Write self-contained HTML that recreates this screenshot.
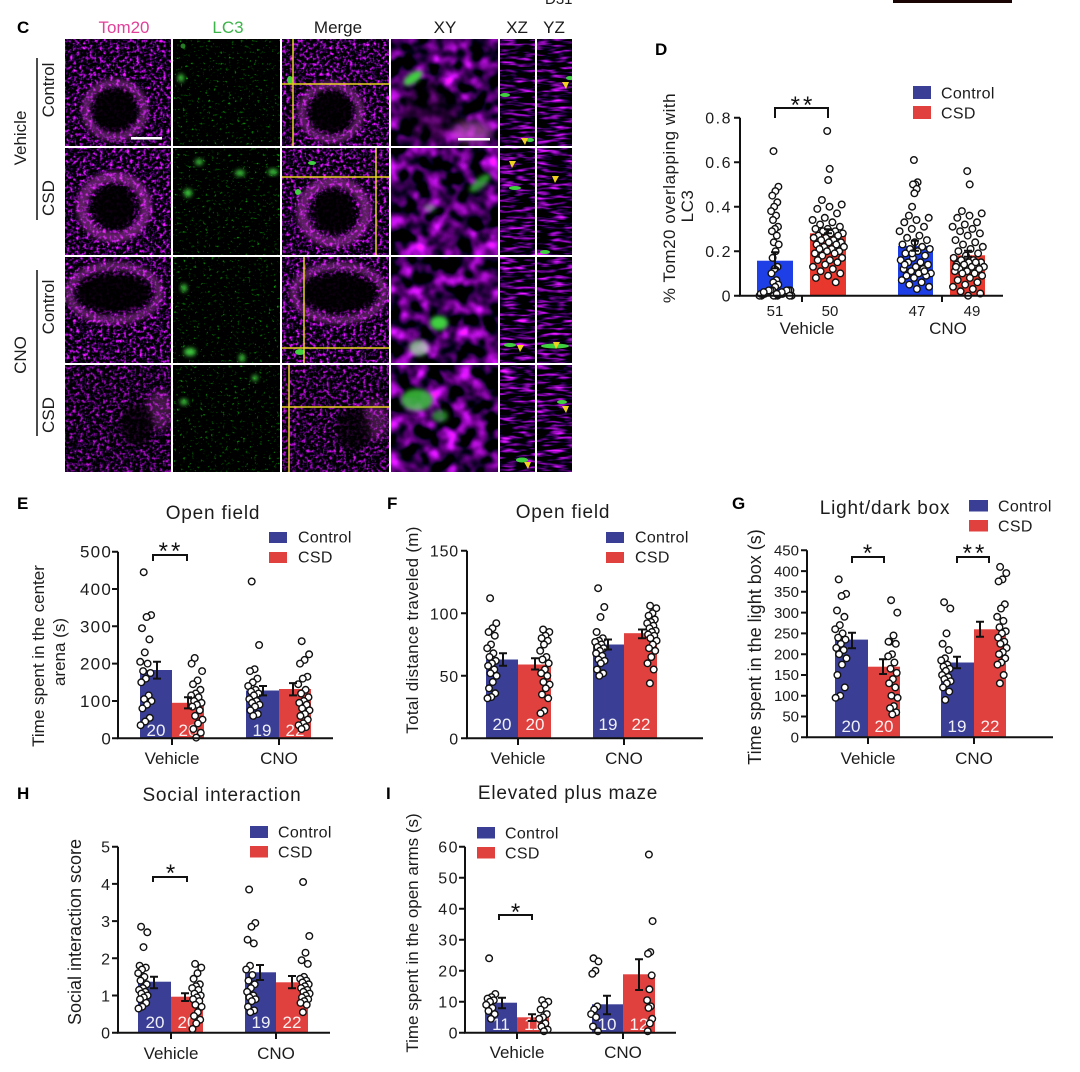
<!DOCTYPE html>
<html><head><meta charset="utf-8">
<style>
html,body{margin:0;padding:0;background:#fff;}
svg{display:block;}
text{font-family:"Liberation Sans",Arial,sans-serif;fill:#1c1c1c;}
.tk{font-size:16px;letter-spacing:1.5px;}
.tg{font-size:15px;}
.lb{font-size:17px;}
.ttl{font-size:19px;letter-spacing:0.8px;}
.lg{font-size:16px;letter-spacing:0.3px;}
text.pl{font-size:17px;font-weight:bold;fill:#000;}
.n text{font-size:17px;fill:#fff;fill-opacity:0.92;}
text.st{font-size:24px;letter-spacing:3px;fill:#111;}
.ax{stroke:#111;stroke-width:2;fill:none;}
.eb{stroke:#111;stroke-width:2;fill:none;}
.dots circle{fill:#fff;stroke:#111;stroke-width:1.4;}
.bl{fill:#3a3f95;}
.rd{fill:#e0403e;}
.yl{stroke:#e6d21e;stroke-width:1.5;}
.ar{fill:#f0d020;}
.gb{fill:#40d040;}
</style></head>
<body>
<svg width="1080" height="1072" viewBox="0 0 1080 1072" xmlns="http://www.w3.org/2000/svg">
<defs>
<filter id="ftom" x="0" y="0" width="1" height="1" color-interpolation-filters="sRGB">
<feTurbulence type="fractalNoise" baseFrequency="0.3" numOctaves="2" seed="4"/>
<feColorMatrix type="matrix" values="3.0 0 0 0 -1.42  0.45 0 0 0 -0.26  3.2 0 0 0 -1.44  0 0 0 0 1"/>
</filter>
<filter id="flc3" x="0" y="0" width="1" height="1" color-interpolation-filters="sRGB">
<feTurbulence type="fractalNoise" baseFrequency="0.35" numOctaves="2" seed="11"/>
<feColorMatrix type="matrix" values="0.2 0 0 0 -0.14  2.6 0 0 0 -1.66  0.2 0 0 0 -0.14  0 0 0 0 1"/>
</filter>
<filter id="fxy" x="0" y="0" width="1" height="1" color-interpolation-filters="sRGB">
<feTurbulence type="fractalNoise" baseFrequency="0.07" numOctaves="3" seed="21"/>
<feGaussianBlur stdDeviation="1.5"/>
<feColorMatrix type="matrix" values="2.6 0 0 0 -1.08  0.4 0 0 0 -0.22  2.8 0 0 0 -1.08  0 0 0 0 1"/>
</filter>
<filter id="fz" x="0" y="0" width="1" height="1" color-interpolation-filters="sRGB">
<feTurbulence type="fractalNoise" baseFrequency="0.06 0.3" numOctaves="2" seed="8"/>
<feColorMatrix type="matrix" values="2.7 0 0 0 -1.28  0.4 0 0 0 -0.23  2.9 0 0 0 -1.28  0 0 0 0 1"/>
</filter>
<filter id="b2" x="-50%" y="-50%" width="200%" height="200%"><feGaussianBlur stdDeviation="2"/></filter>
<filter id="b4" x="-50%" y="-50%" width="200%" height="200%"><feGaussianBlur stdDeviation="4"/></filter>
</defs>

<!-- top fragments -->
<text x="545" y="4" style="font-size:15px">D31</text>
<rect x="893" y="0" width="119" height="3" fill="#1a0505"/>

<!-- ================= Panel C ================= -->
<text class="pl" x="17" y="33">C</text>
<text class="lb" x="124" y="33" text-anchor="middle" style="fill:#e0409a">Tom20</text>
<text class="lb" x="228" y="33" text-anchor="middle" style="fill:#3cb44a">LC3</text>
<text class="lb" x="338" y="33" text-anchor="middle">Merge</text>
<text class="lb" x="445" y="33" text-anchor="middle">XY</text>
<text class="lb" x="517" y="33" text-anchor="middle">XZ</text>
<text class="lb" x="554" y="33" text-anchor="middle">YZ</text>

<text class="lb" transform="translate(26,138) rotate(-90)" text-anchor="middle">Vehicle</text>
<text class="lb" transform="translate(54,90) rotate(-90)" text-anchor="middle">Control</text>
<text class="lb" transform="translate(54,198) rotate(-90)" text-anchor="middle">CSD</text>
<text class="lb" transform="translate(26,355) rotate(-90)" text-anchor="middle">CNO</text>
<text class="lb" transform="translate(54,307) rotate(-90)" text-anchor="middle">Control</text>
<text class="lb" transform="translate(54,415) rotate(-90)" text-anchor="middle">CSD</text>
<line x1="37" y1="58" x2="37" y2="220" stroke="#111" stroke-width="1.5"/>
<line x1="37" y1="270" x2="37" y2="436" stroke="#111" stroke-width="1.5"/>

<!-- Row 1 -->
<svg x="65" y="39" width="106" height="107" viewBox="65 39 106 107">
<rect x="65" y="39" width="106" height="107" filter="url(#ftom)"/>
<ellipse cx="115" cy="110" rx="29" ry="27" fill="none" stroke="#d048d8" stroke-opacity="0.4" stroke-width="9" filter="url(#b2)"/>
<ellipse cx="115" cy="110" rx="22" ry="21" fill="#000" opacity="0.92" filter="url(#b2)"/>
<rect x="131" y="137" width="31" height="2.5" fill="#fff"/>
</svg>
<svg x="173" y="39" width="107" height="107" viewBox="173 39 107 107">
<rect x="173" y="39" width="107" height="107" filter="url(#flc3)"/>
<ellipse class="gb" cx="181" cy="78" rx="3" ry="4" filter="url(#b2)"/>
<ellipse class="gb" cx="183" cy="46" rx="2.5" ry="2.5" opacity=".6"/>
</svg>
<svg x="282" y="39" width="107" height="107" viewBox="282 39 107 107">
<rect x="282" y="39" width="107" height="107" filter="url(#ftom)"/>
<ellipse cx="331" cy="112" rx="29" ry="27" fill="none" stroke="#d048d8" stroke-opacity="0.4" stroke-width="9" filter="url(#b2)"/>
<ellipse cx="331" cy="112" rx="22" ry="21" fill="#000" opacity="0.92" filter="url(#b2)"/>
<ellipse class="gb" cx="290" cy="80" rx="3" ry="4"/>
<line class="yl" x1="293" y1="39" x2="293" y2="146"/>
<line class="yl" x1="282" y1="84" x2="389" y2="84"/>
</svg>
<svg x="391" y="39" width="107" height="107" viewBox="391 39 107 107">
<rect x="391" y="39" width="107" height="107" filter="url(#fxy)"/>
<ellipse cx="430" cy="112" rx="28" ry="30" fill="#000" opacity="0.5" filter="url(#b4)"/>
<ellipse cx="472" cy="132" rx="20" ry="11" fill="#e060e0" opacity="0.6" filter="url(#b4)"/>
<ellipse class="gb" cx="413" cy="78" rx="11" ry="5" transform="rotate(-35 413 78)" filter="url(#b2)"/>
<rect x="458" y="138" width="32" height="2.5" fill="#fff"/>
</svg>
<svg x="500" y="39" width="35" height="107" viewBox="500 39 35 107">
<rect x="500" y="39" width="35" height="107" filter="url(#fz)"/>
<ellipse class="gb" cx="505" cy="95" rx="5" ry="2"/>
<ellipse class="gb" cx="530" cy="140" rx="4" ry="2"/>
<polygon class="ar" points="521,138 528,138 525,145"/>
</svg>
<svg x="537" y="39" width="35" height="107" viewBox="537 39 35 107">
<rect x="537" y="39" width="35" height="107" filter="url(#fz)"/>
<ellipse class="gb" cx="570" cy="78" rx="4" ry="2"/>
<polygon class="ar" points="562,82 569,82 566,89"/>
</svg>

<!-- Row 2 -->
<svg x="65" y="148" width="106" height="107" viewBox="65 148 106 107">
<rect x="65" y="148" width="106" height="107" filter="url(#ftom)"/>
<ellipse cx="114" cy="207" rx="32" ry="30" fill="none" stroke="#d048d8" stroke-opacity="0.45" stroke-width="11" filter="url(#b2)"/>
<ellipse cx="114" cy="207" rx="21" ry="22" fill="#000" opacity="0.93" filter="url(#b2)"/>
</svg>
<svg x="173" y="148" width="107" height="107" viewBox="173 148 107 107">
<rect x="173" y="148" width="107" height="107" filter="url(#flc3)"/>
<ellipse class="gb" cx="199" cy="162" rx="4" ry="3" filter="url(#b2)"/>
<ellipse class="gb" cx="188" cy="193" rx="4" ry="4" filter="url(#b2)"/>
<ellipse class="gb" cx="240" cy="173" rx="5" ry="3" filter="url(#b2)"/>
<ellipse class="gb" cx="273" cy="172" rx="5" ry="3" filter="url(#b2)"/>
</svg>
<svg x="282" y="148" width="107" height="107" viewBox="282 148 107 107">
<rect x="282" y="148" width="107" height="107" filter="url(#ftom)"/>
<ellipse cx="334" cy="212" rx="32" ry="30" fill="none" stroke="#d048d8" stroke-opacity="0.45" stroke-width="11" filter="url(#b2)"/>
<ellipse cx="334" cy="212" rx="21" ry="22" fill="#000" opacity="0.93" filter="url(#b2)"/>
<ellipse class="gb" cx="298" cy="192" rx="3" ry="3"/>
<ellipse class="gb" cx="312" cy="163" rx="4" ry="2"/>
<line class="yl" x1="376" y1="148" x2="376" y2="255"/>
<line class="yl" x1="282" y1="177" x2="389" y2="177"/>
</svg>
<svg x="391" y="148" width="107" height="107" viewBox="391 148 107 107">
<rect x="391" y="148" width="107" height="107" filter="url(#fxy)"/>
<ellipse class="gb" cx="480" cy="183" rx="13" ry="5" transform="rotate(-40 480 183)" opacity=".7" filter="url(#b2)"/>
<ellipse class="gb" cx="430" cy="208" rx="6" ry="4" opacity=".5" filter="url(#b2)"/>
</svg>
<svg x="500" y="148" width="35" height="107" viewBox="500 148 35 107">
<rect x="500" y="148" width="35" height="107" filter="url(#fz)"/>
<ellipse class="gb" cx="515" cy="188" rx="6" ry="2"/>
<polygon class="ar" points="509,161 516,161 512,168"/>
</svg>
<svg x="537" y="148" width="35" height="107" viewBox="537 148 35 107">
<rect x="537" y="148" width="35" height="107" filter="url(#fz)"/>
<polygon class="ar" points="552,176 559,176 555,183"/>
<ellipse class="gb" cx="545" cy="252" rx="5" ry="2"/>
</svg>

<!-- Row 3 -->
<svg x="65" y="257" width="106" height="106" viewBox="65 257 106 106">
<rect x="65" y="257" width="106" height="106" filter="url(#ftom)"/>
<ellipse cx="114" cy="293" rx="45" ry="27" fill="none" stroke="#d048d8" stroke-opacity="0.4" stroke-width="9" filter="url(#b2)"/>
<ellipse cx="114" cy="293" rx="37" ry="19" fill="#000" opacity="0.92" filter="url(#b2)"/>
</svg>
<svg x="173" y="257" width="107" height="106" viewBox="173 257 107 106">
<rect x="173" y="257" width="107" height="106" filter="url(#flc3)"/>
<ellipse class="gb" cx="190" cy="352" rx="6" ry="4" filter="url(#b2)"/>
<ellipse class="gb" cx="184" cy="288" rx="3" ry="4" filter="url(#b2)"/>
<ellipse class="gb" cx="242" cy="358" rx="3" ry="4" filter="url(#b2)"/>
</svg>
<svg x="282" y="257" width="107" height="106" viewBox="282 257 107 106">
<rect x="282" y="257" width="107" height="106" filter="url(#ftom)"/>
<ellipse cx="339" cy="293" rx="45" ry="27" fill="none" stroke="#d048d8" stroke-opacity="0.4" stroke-width="9" filter="url(#b2)"/>
<ellipse cx="339" cy="293" rx="37" ry="19" fill="#000" opacity="0.92" filter="url(#b2)"/>
<ellipse class="gb" cx="300" cy="352" rx="5" ry="3"/>
<line class="yl" x1="304" y1="257" x2="304" y2="363"/>
<line class="yl" x1="282" y1="348" x2="389" y2="348"/>
</svg>
<svg x="391" y="257" width="107" height="106" viewBox="391 257 107 106">
<rect x="391" y="257" width="107" height="106" filter="url(#fxy)"/>
<ellipse class="gb" cx="439" cy="323" rx="9" ry="7" filter="url(#b2)"/>
<ellipse cx="419" cy="348" rx="10" ry="8" fill="#a8f0a8" opacity=".7" filter="url(#b2)"/>
</svg>
<svg x="500" y="257" width="35" height="106" viewBox="500 257 35 106">
<rect x="500" y="257" width="35" height="106" filter="url(#fz)"/>
<ellipse class="gb" cx="510" cy="345" rx="6" ry="2"/>
<polygon class="ar" points="517,345 524,345 520,352"/>
</svg>
<svg x="537" y="257" width="35" height="106" viewBox="537 257 35 106">
<rect x="537" y="257" width="35" height="106" filter="url(#fz)"/>
<ellipse class="gb" cx="555" cy="346" rx="14" ry="2.5"/>
<polygon class="ar" points="553,342 560,342 556,349"/>
</svg>

<!-- Row 4 -->
<svg x="65" y="365" width="106" height="107" viewBox="65 365 106 107">
<rect x="65" y="365" width="106" height="107" filter="url(#ftom)"/>
<rect x="65" y="365" width="106" height="107" fill="#000" opacity="0.2"/>
<ellipse cx="160" cy="410" rx="14" ry="20" fill="#d050d0" opacity=".3" filter="url(#b4)"/>
<ellipse cx="137" cy="425" rx="17" ry="21" fill="#000" opacity="0.75" filter="url(#b2)"/>
</svg>
<svg x="173" y="365" width="107" height="107" viewBox="173 365 107 107">
<rect x="173" y="365" width="107" height="107" filter="url(#flc3)"/>
<ellipse class="gb" cx="184" cy="402" rx="4" ry="3" filter="url(#b2)"/>
<ellipse class="gb" cx="255" cy="378" rx="3" ry="3" filter="url(#b2)"/>
</svg>
<svg x="282" y="365" width="107" height="107" viewBox="282 365 107 107">
<rect x="282" y="365" width="107" height="107" filter="url(#ftom)"/>
<rect x="282" y="365" width="107" height="107" fill="#000" opacity="0.15"/>
<ellipse cx="375" cy="420" rx="14" ry="20" fill="#d050d0" opacity=".3" filter="url(#b4)"/>
<ellipse cx="354" cy="430" rx="17" ry="21" fill="#000" opacity="0.75" filter="url(#b2)"/>
<line class="yl" x1="289" y1="365" x2="289" y2="472"/>
<line class="yl" x1="282" y1="407" x2="389" y2="407"/>
</svg>
<svg x="391" y="365" width="107" height="107" viewBox="391 365 107 107">
<rect x="391" y="365" width="107" height="107" filter="url(#fxy)"/>
<ellipse class="gb" cx="417" cy="400" rx="16" ry="11" opacity=".8" filter="url(#b2)"/>
<ellipse class="gb" cx="440" cy="416" rx="8" ry="6" opacity=".6" filter="url(#b2)"/>
</svg>
<svg x="500" y="365" width="35" height="107" viewBox="500 365 35 107">
<rect x="500" y="365" width="35" height="107" filter="url(#fz)"/>
<ellipse class="gb" cx="522" cy="460" rx="6" ry="2.5"/>
<polygon class="ar" points="524,462 531,462 528,469"/>
</svg>
<svg x="537" y="365" width="35" height="107" viewBox="537 365 35 107">
<rect x="537" y="365" width="35" height="107" filter="url(#fz)"/>
<ellipse class="gb" cx="562" cy="402" rx="5" ry="2"/>
<polygon class="ar" points="562,406 569,406 566,413"/>
</svg>

<!-- ================= Panel D ================= -->
<text class="pl" x="655" y="55">D</text>
<rect x="757" y="260.7" width="36" height="35" fill="#1f3fe6"/>
<rect x="810" y="233.3" width="36" height="62.4" fill="#e8372c"/>
<rect x="898" y="246" width="35" height="49.7" fill="#1f3fe6"/>
<rect x="950" y="255.3" width="35" height="40.4" fill="#e8372c"/>
<g id="dD" class="dots"></g>
<path class="eb" d="M775 252.3V268.3M771 252.3H779M771 268.3H779"/>
<path class="eb" d="M828 229.3V233.3M824 229.3H832M824 233.3H832"/>
<path class="eb" d="M915 240.7V250.7M911 240.7H919M911 250.7H919"/>
<path class="eb" d="M968 250.7V256.7M964 250.7H972M964 256.7H972"/>
<path class="ax" d="M740 117.7V295.7H1003"/>
<path class="ax" d="M734 117.7H740M734 162.2H740M734 206.7H740M734 251.2H740M734 295.7H740M802 295.7V302M942 295.7V302"/>
<g class="tk" text-anchor="end">
<text x="732" y="123.7">0.8</text><text x="732" y="168.2">0.6</text><text x="732" y="212.7">0.4</text><text x="732" y="257.2">0.2</text><text x="732" y="301.7">0</text>
</g>
<g style="font-size:15px" text-anchor="middle">
<text x="775" y="316">51</text><text x="830" y="316">50</text><text x="917" y="316">47</text><text x="972" y="316">49</text>
</g>
<text class="lb" x="807" y="334" text-anchor="middle">Vehicle</text>
<text class="lb" x="948" y="334" text-anchor="middle">CNO</text>
<text class="lb" style="letter-spacing:0.5px" transform="translate(675,198) rotate(-90)" text-anchor="middle">% Tom20 overlapping with</text>
<text class="lb" style="letter-spacing:0.5px" transform="translate(693,206) rotate(-90)" text-anchor="middle">LC3</text>
<path class="eb" d="M775 118V108H828V118"/>
<text class="st" x="803" y="113" text-anchor="middle">**</text>
<rect class="bl" x="913" y="86" width="18" height="13"/>
<rect class="rd" x="913" y="106" width="18" height="13"/>
<text class="lg" x="941" y="98.5">Control</text>
<text class="lg" x="941" y="118.5">CSD</text>

<!-- ================= Panel E ================= -->
<text class="pl" x="17" y="509">E</text>
<text class="ttl" x="213" y="519" text-anchor="middle">Open field</text>
<rect class="bl" x="140" y="670" width="32" height="68.3"/>
<rect class="rd" x="172" y="702.8" width="32" height="35.5"/>
<rect class="bl" x="246" y="690.5" width="33" height="47.8"/>
<rect class="rd" x="279" y="689" width="32" height="49.3"/>
<g class="n" text-anchor="middle"><text x="156" y="736">20</text><text x="188" y="736">20</text><text x="262" y="736">19</text><text x="295" y="736">22</text></g>
<g id="dE" class="dots"></g>
<path class="eb" d="M157 661.8V678.6M153 661.8H161M153 678.6H161"/>
<path class="eb" d="M188 697.2V708.4M184 697.2H192M184 708.4H192"/>
<path class="eb" d="M263 686V695.4M259 686H267M259 695.4H267"/>
<path class="eb" d="M293 683.1V695.4M289 683.1H297M289 695.4H297"/>
<path class="ax" d="M118 551.7V738.3H333"/>
<path class="ax" d="M112 551.7H118M112 589H118M112 626.3H118M112 663.6H118M112 701H118M112 738.3H118M172 738.3V745M279 738.3V745"/>
<g class="tk" text-anchor="end" style="font-size:17px;letter-spacing:1.2px">
<text x="112" y="557.7">500</text><text x="112" y="595">400</text><text x="112" y="632.3">300</text><text x="112" y="669.6">200</text><text x="112" y="707">100</text><text x="112" y="744.3">0</text>
</g>
<text class="lb" x="172" y="764" text-anchor="middle">Vehicle</text>
<text class="lb" x="279" y="764" text-anchor="middle">CNO</text>
<text class="lb" transform="translate(44,656) rotate(-90)" text-anchor="middle">Time spent in the center</text>
<text class="lb" transform="translate(65,652) rotate(-90)" text-anchor="middle">arena (s)</text>
<path class="eb" d="M153 561V555H187V561"/>
<text class="st" x="171" y="559" text-anchor="middle">**</text>
<rect class="bl" x="269" y="532" width="18" height="11"/>
<rect class="rd" x="269" y="552" width="18" height="11"/>
<text class="lg" x="298" y="542.5">Control</text>
<text class="lg" x="298" y="562.5">CSD</text>

<!-- ================= Panel F ================= -->
<text class="pl" x="387" y="509">F</text>
<text class="ttl" x="563" y="518" text-anchor="middle">Open field</text>
<rect class="bl" x="486" y="659.5" width="32" height="78.8"/>
<rect class="rd" x="518" y="664.5" width="33" height="73.8"/>
<rect class="bl" x="593" y="644.5" width="31" height="93.8"/>
<rect class="rd" x="624" y="633.2" width="33" height="105.1"/>
<g class="n" text-anchor="middle"><text x="502" y="730">20</text><text x="535" y="730">20</text><text x="608" y="730">19</text><text x="641" y="730">22</text></g>
<g id="dF" class="dots"></g>
<path class="eb" d="M503 653.3V665.8M499 653.3H507M499 665.8H507"/>
<path class="eb" d="M535 658.3V669.5M531 658.3H539M531 669.5H539"/>
<path class="eb" d="M608 639.5V649.5M604 639.5H612M604 649.5H612"/>
<path class="eb" d="M642 629.5V638.2M638 629.5H646M638 638.2H646"/>
<path class="ax" d="M467 550.7V738.3H703"/>
<path class="ax" d="M461 550.7H467M461 613.3H467M461 675.8H467M461 738.3H467M518 738.3V745M624 738.3V745"/>
<g class="tk" text-anchor="end" style="letter-spacing:0.8px">
<text x="459" y="556.7">150</text><text x="459" y="619.3">100</text><text x="459" y="681.8">50</text><text x="459" y="744.3">0</text>
</g>
<text class="lb" x="518" y="764" text-anchor="middle">Vehicle</text>
<text class="lb" x="624" y="764" text-anchor="middle">CNO</text>
<text class="lb" style="letter-spacing:0.3px" transform="translate(418,630) rotate(-90)" text-anchor="middle">Total distance traveled (m)</text>
<rect class="bl" x="606" y="532" width="18" height="11"/>
<rect class="rd" x="606" y="552" width="18" height="11"/>
<text class="lg" x="635" y="542.5">Control</text>
<text class="lg" x="635" y="562.5">CSD</text>

<!-- ================= Panel G ================= -->
<text class="pl" x="732" y="509">G</text>
<text class="ttl" x="885" y="514" text-anchor="middle">Light/dark box</text>
<rect class="bl" x="835" y="639.6" width="33" height="97.7"/>
<rect class="rd" x="868" y="666.7" width="32" height="70.6"/>
<rect class="bl" x="941" y="662.5" width="33" height="74.8"/>
<rect class="rd" x="974" y="629.3" width="32" height="108"/>
<g class="n" text-anchor="middle"><text x="851" y="732">20</text><text x="884" y="732">20</text><text x="957" y="732">19</text><text x="990" y="732">22</text></g>
<g id="dG" class="dots"></g>
<path class="eb" d="M852 632.7V648.3M848 632.7H856M848 648.3H856"/>
<path class="eb" d="M883 659.3V674M879 659.3H887M879 674H887"/>
<path class="eb" d="M957 656.7V668.3M953 656.7H961M953 668.3H961"/>
<path class="eb" d="M980 621.7V636.7M976 621.7H984M976 636.7H984"/>
<path class="ax" d="M807 550.3V737.3H1053"/>
<path class="ax" d="M801 550.3H807M801 571.1H807M801 591.8H807M801 612.6H807M801 633.4H807M801 654.2H807M801 675H807M801 695.7H807M801 716.5H807M801 737.3H807M868 737.3V744M974 737.3V744"/>
<g class="tg" text-anchor="end">
<text x="799" y="555.5">450</text><text x="799" y="576.3">400</text><text x="799" y="597">350</text><text x="799" y="617.8">300</text><text x="799" y="638.6">250</text><text x="799" y="659.4">200</text><text x="799" y="680.2">150</text><text x="799" y="700.9">100</text><text x="799" y="721.7">50</text><text x="799" y="742.5">0</text>
</g>
<text class="lb" x="868" y="764" text-anchor="middle">Vehicle</text>
<text class="lb" x="974" y="764" text-anchor="middle">CNO</text>
<text class="lb" style="font-size:18px" transform="translate(761,647) rotate(-90)" text-anchor="middle">Time spent in the light box (s)</text>
<path class="eb" d="M852 563V557H884V563"/>
<text class="st" x="869" y="561" text-anchor="middle">*</text>
<path class="eb" d="M957 563V557H989V563"/>
<text class="st" x="975" y="561" text-anchor="middle">**</text>
<rect class="bl" x="969" y="500" width="19" height="11.5"/>
<rect class="rd" x="969" y="520" width="19" height="11.5"/>
<text class="lg" x="998" y="511.5">Control</text>
<text class="lg" x="998" y="531.5">CSD</text>

<!-- ================= Panel H ================= -->
<text class="pl" x="17" y="799">H</text>
<text class="ttl" x="222" y="801" text-anchor="middle">Social interaction</text>
<rect class="bl" x="138" y="981.7" width="33" height="51"/>
<rect class="rd" x="171" y="996.7" width="32" height="36"/>
<rect class="bl" x="245" y="972.3" width="31" height="60.4"/>
<rect class="rd" x="276" y="982.3" width="32" height="50.4"/>
<g class="n" text-anchor="middle"><text x="155" y="1028">20</text><text x="187" y="1028">20</text><text x="261" y="1028">19</text><text x="292" y="1028">22</text></g>
<g id="dH" class="dots"></g>
<path class="eb" d="M154 976.7V988.3M150 976.7H158M150 988.3H158"/>
<path class="eb" d="M185 993.3V1001M181 993.3H189M181 1001H189"/>
<path class="eb" d="M260 965V980M256 965H264M256 980H264"/>
<path class="eb" d="M292 976V988.3M288 976H296M288 988.3H296"/>
<path class="ax" d="M118 846.7V1032.7H330"/>
<path class="ax" d="M112 846.7H118M112 883.9H118M112 921.1H118M112 958.3H118M112 995.5H118M112 1032.7H118M171 1032.7V1039M276 1032.7V1039"/>
<g class="tk" text-anchor="end" style="letter-spacing:0">
<text x="110" y="852.7">5</text><text x="110" y="889.9">4</text><text x="110" y="927.1">3</text><text x="110" y="964.3">2</text><text x="110" y="1001.5">1</text><text x="110" y="1038.7">0</text>
</g>
<text class="lb" x="171" y="1059" text-anchor="middle">Vehicle</text>
<text class="lb" x="276" y="1059" text-anchor="middle">CNO</text>
<text class="lb" style="font-size:18px" transform="translate(81,932) rotate(-90)" text-anchor="middle">Social interaction score</text>
<path class="eb" d="M153 882V877H187V882"/>
<text class="st" x="172" y="881" text-anchor="middle">*</text>
<rect class="bl" x="250" y="826" width="18" height="12"/>
<rect class="rd" x="250" y="846" width="18" height="11.5"/>
<text class="lg" x="278" y="837.5">Control</text>
<text class="lg" x="278" y="857.5">CSD</text>

<!-- ================= Panel I ================= -->
<text class="pl" x="386" y="799">I</text>
<text class="ttl" x="568" y="799" text-anchor="middle">Elevated plus maze</text>
<rect class="bl" x="485" y="1002.7" width="32" height="30"/>
<rect class="rd" x="517" y="1017.3" width="32" height="15.4"/>
<rect class="bl" x="592" y="1004.3" width="31" height="28.4"/>
<rect class="rd" x="623" y="974.3" width="32" height="58.4"/>
<g class="n" text-anchor="middle"><text x="501" y="1030">11</text><text x="533" y="1030">11</text><text x="607" y="1030">10</text><text x="639" y="1030">12</text></g>
<g id="dI" class="dots"></g>
<path class="eb" d="M502 997.7V1008.3M498 997.7H506M498 1008.3H506"/>
<path class="eb" d="M532 1014.3V1021M528 1014.3H536M528 1021H536"/>
<path class="eb" d="M607 995.7V1014.3M603 995.7H611M603 1014.3H611"/>
<path class="eb" d="M639 959.3V990M635 959.3H643M635 990H643"/>
<path class="ax" d="M465 846.7V1032.7H676"/>
<path class="ax" d="M459 846.7H465M459 877.7H465M459 908.7H465M459 939.7H465M459 970.7H465M459 1001.7H465M459 1032.7H465M517 1032.7V1039M623 1032.7V1039"/>
<g class="tk" text-anchor="end" style="letter-spacing:1.5px">
<text x="459" y="852.7">60</text><text x="459" y="883.7">50</text><text x="459" y="914.7">40</text><text x="459" y="945.7">30</text><text x="459" y="976.7">20</text><text x="459" y="1007.7">10</text><text x="459" y="1038.7">0</text>
</g>
<text class="lb" x="517" y="1058" text-anchor="middle">Vehicle</text>
<text class="lb" x="623" y="1058" text-anchor="middle">CNO</text>
<text class="lb" transform="translate(418,933) rotate(-90)" text-anchor="middle">Time spent in the open arms (s)</text>
<path class="eb" d="M499 920V915H532V920"/>
<text class="st" x="517" y="920" text-anchor="middle">*</text>
<rect class="bl" x="477" y="827" width="18" height="11.5"/>
<rect class="rd" x="477" y="847" width="18" height="11.5"/>
<text class="lg" x="505" y="838.5">Control</text>
<text class="lg" x="505" y="858.5">CSD</text>
</svg>

<script>
(function(){
var ns="http://www.w3.org/2000/svg";
function D(id,cx,sp,vals,y0,k,ph){
  var g=document.getElementById(id);
  for(var i=0;i<vals.length;i++){
    var f=((i*0.618034+(ph||0.31))%1)-0.5;
    var c=document.createElementNS(ns,"circle");
    c.setAttribute("cx",(cx+f*2*sp).toFixed(1));
    c.setAttribute("cy",(y0-vals[i]*k).toFixed(1));
    c.setAttribute("r","3.3");
    g.appendChild(c);
  }
}
var yD=295.7,kD=222.5;
D("dD",775,4,[0.65,0.49,0.47,0.45,0.42,0.40,0.38,0.36,0.34,0.31,0.30,0.29,0.27,0.24,0.23,0.20,0.17,0.13,0.12,0.10,0.07,0.06,0.05,0.04],yD,kD);
var z=[];for(var i=0;i<27;i++){z.push((i%4)*0.008);}
D("dD",775,17,z,yD,kD,0.1);
D("dD",828,2,[0.74,0.57,0.52],yD,kD);
D("dD",828,16,[0.43,0.41,0.40,0.39,0.37,0.35,0.34,0.33,0.32,0.31,0.30,0.30,0.29,0.29,0.28,0.28,0.27,0.27,0.26,0.26,0.25,0.25,0.24,0.24,0.23,0.23,0.22,0.22,0.21,0.21,0.20,0.20,0.19,0.19,0.18,0.17,0.16,0.16,0.15,0.14,0.13,0.12,0.11,0.10,0.09,0.08,0.06],yD,kD);
D("dD",915,3,[0.61,0.51,0.50,0.50,0.48,0.46,0.40],yD,kD);
D("dD",915,16,[0.36,0.35,0.34,0.33,0.31,0.30,0.29,0.27,0.26,0.25,0.24,0.23,0.22,0.21,0.21,0.20,0.19,0.18,0.17,0.16,0.15,0.15,0.14,0.13,0.12,0.12,0.11,0.10,0.10,0.09,0.09,0.08,0.07,0.06,0.05,0.04,0.03,0.14,0.11,0.19],yD,kD);
D("dD",968,2,[0.56,0.50],yD,kD);
D("dD",968,16,[0.38,0.37,0.36,0.35,0.33,0.32,0.31,0.30,0.29,0.28,0.27,0.25,0.24,0.23,0.22,0.21,0.20,0.19,0.18,0.17,0.16,0.16,0.15,0.15,0.14,0.14,0.14,0.13,0.13,0.12,0.12,0.11,0.11,0.10,0.10,0.09,0.08,0.07,0.06,0.05,0.04,0.03,0.02,0.01,0.0,0.13,0.15],yD,kD);
var yE=738.3,kE=0.3733;
D("dE",146,6,[445,330,325,295,265,230,205,200,180,175,160,150,115,105,100,90,80,55,45,35],yE,kE);
D("dE",197,6,[215,180,155,145,130,120,115,110,100,95,90,85,75,60,50,40,25,15,2,200],yE,kE);
D("dE",254,6,[420,250,185,180,160,150,140,130,125,120,115,105,100,95,90,85,75,65,60],yE,kE);
D("dE",304,6,[260,225,210,200,165,160,145,130,120,110,100,95,90,80,75,65,60,50,40,35,30,25],yE,kE);
var yF=738.3,kF=1.2507;
D("dF",492,5,[112,92,88,85,82,75,72,68,65,62,60,58,55,52,50,45,40,36,33,32],yF,kF);
D("dF",545,5,[87,85,82,80,78,75,70,65,63,60,55,52,50,45,43,40,35,32,22,20],yF,kF);
D("dF",600,5,[120,105,97,85,80,78,77,75,73,72,70,68,66,63,62,60,55,52,50],yF,kF);
D("dF",652,5,[106,104,100,98,95,93,92,90,88,86,85,83,82,80,78,75,72,70,65,60,55,44],yF,kF);
var yG=737.3,kG=0.4156;
D("dG",841,6,[380,345,340,305,290,270,260,250,240,235,225,215,210,200,190,175,150,120,100,95],yG,kG);
D("dG",893,5,[330,300,245,230,225,200,195,180,165,155,140,130,120,100,95,75,70,60,55,230],yG,kG);
D("dG",946,5,[325,310,250,225,210,190,185,175,170,165,160,150,145,140,135,130,120,110,90],yG,kG);
D("dG",1002,5,[410,395,380,375,320,310,290,280,265,255,250,240,230,225,215,205,200,190,180,175,150,130],yG,kG);
var yH=1032.7,kH=37.2;
D("dH",143,5,[2.85,2.7,2.3,1.8,1.75,1.7,1.6,1.5,1.4,1.3,1.2,1.15,1.1,1.05,1.0,0.95,0.9,0.8,0.7,0.65],yH,kH);
D("dH",197,5,[1.85,1.75,1.6,1.45,1.3,1.25,1.2,1.15,1.05,1.0,0.95,0.9,0.85,0.75,0.7,0.55,0.45,0.35,0.25,0.1],yH,kH);
D("dH",251,5,[3.85,2.95,2.85,2.5,2.4,1.8,1.7,1.55,1.4,1.3,1.2,1.1,1.0,0.95,0.9,0.85,0.7,0.6,0.55],yH,kH);
D("dH",305,5,[4.05,2.6,2.15,1.95,1.85,1.5,1.45,1.4,1.35,1.3,1.25,1.2,1.15,1.1,1.05,1.0,0.95,0.9,0.85,0.8,0.75,0.55],yH,kH);
var yI=1032.7,kI=3.1;
D("dI",491,5,[24,12.5,11.5,11,10.5,10,9,8,7,6,4.5],yI,kI);
D("dI",544,5,[10.5,10,9,7.5,6,5,4.5,3,2,1,0.5],yI,kI);
D("dI",595,4,[24,23,20,19,8.5,7.5,6,5,2,0.5],yI,kI);
D("dI",650,3,[57.5,36,26,25.5,18.5,14,10.5,8.5,8,4.5,3,0.5],yI,kI);
})();
</script>
</body></html>
